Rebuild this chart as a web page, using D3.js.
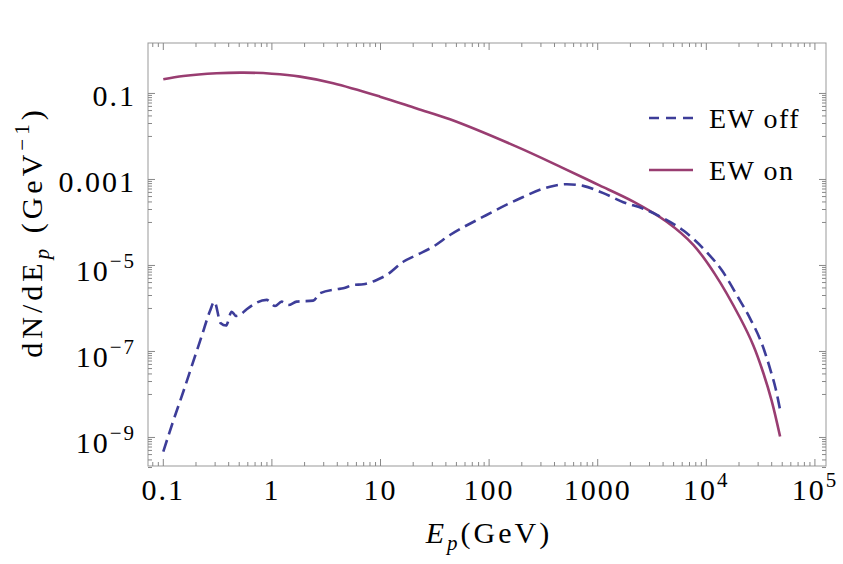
<!DOCTYPE html>
<html><head><meta charset="utf-8">
<script src="https://cdn.jsdelivr.net/npm/d3@7"></script>
<style>
body{margin:0;background:#fff}
svg{display:block}
</style>
</head><body>
<svg id="chart" width="843" height="564" font-family="Liberation Serif"></svg>
<script>
// ---------- data ----------
const seriesNames = ["EW off", "EW on"];
const seriesColors = ["#3d3d99", "#993d71"];

const energyOff = [0.1, 0.124, 0.153, 0.183, 0.226, 0.269, 0.295, 0.338, 0.378, 0.426, 0.467, 0.508, 0.586,
  0.895, 1.07, 1.23, 1.42, 1.69, 2.40, 2.77, 3.95, 4.54, 5.62, 6.95, 9.23, 11.4, 16.2, 21.5, 30.6, 43.6,
  88.5, 179, 364, 519, 736, 1127, 1722, 2630, 3750, 6240, 10160, 13960, 19600, 25200, 32600, 39400, 43400, 47800];
const dndeOff = [4.7e-10, 2.5e-9, 1.17e-8, 4.6e-8, 2.3e-7, 8.7e-7, 1.44e-6, 4.5e-7, 4.0e-7, 8.4e-7, 6.7e-7, 7.1e-7, 9.6e-7,
  1.58e-6, 1.14e-6, 1.44e-6, 1.2e-6, 1.44e-6, 1.52e-6, 2.25e-6, 2.8e-6, 2.95e-6, 3.52e-6, 3.66e-6, 4.6e-6, 6.0e-6, 1.22e-5, 1.75e-5, 2.74e-5, 5.1e-5,
  1.36e-4, 3.33e-4, 6.8e-4, 7.76e-4, 7.1e-4, 4.8e-4, 2.95e-4, 2.09e-4, 1.38e-4, 6.3e-5, 2.0e-5, 7.6e-6, 1.82e-6, 5.96e-7, 1.47e-7, 3.37e-8, 1.4e-8, 4.4e-9];

const energyOn = [0.1, 0.153, 0.31, 0.546, 1.0, 1.82, 3.67, 9.9, 21.5, 43.6, 179, 450, 819, 1050, 2130, 4315,
  7590, 12000, 20500, 27100, 33500, 40000, 47800];
const dndeOn = [0.214, 0.255, 0.295, 0.305, 0.288, 0.246, 0.173, 0.0843, 0.0447, 0.0251, 0.0058, 0.00199, 9.7e-4, 7.2e-4, 3.05e-4, 1.04e-4,
  3.02e-5, 6.3e-6, 6.0e-7, 1.38e-7, 3.16e-8, 7.1e-9, 1.05e-9];

const xTickValues = [0.1, 1, 10, 100, 1000, 1e4, 1e5];
const xTickLabels = ["0.1", "1", "10", "100", "1000", "10^4", "10^5"];
const yTickValues = [0.1, 1e-3, 1e-5, 1e-7, 1e-9];
const yTickLabels = ["0.1", "0.001", "10^−5", "10^−7", "10^−9"];
const yMinorDecades = [1e-2, 1e-4, 1e-6, 1e-8];

const xDomain = [0.0723, 1.265e5];
const yDomain = [2.17e-10, 1.49];

// ---------- layout ----------
const FONT = "Liberation Serif";
const frame = {left: 148, right: 826, top: 43, bottom: 466};
const svg = d3.select("#chart");
const x = d3.scaleLog().domain(xDomain).range([frame.left, frame.right]);
const y = d3.scaleLog().domain(yDomain).range([frame.bottom, frame.top]);

const tickColor = "#888";
const majorLen = 7, minorLen = 4;

// frame
svg.append("rect")
  .attr("x", frame.left).attr("y", frame.top)
  .attr("width", frame.right - frame.left).attr("height", frame.bottom - frame.top)
  .attr("fill", "none").attr("stroke", "#999").attr("stroke-width", 1);

// x ticks
const xMinor = [];
for (let e = -2; e <= 5; e++) for (let k = 2; k <= 9; k++) {
  const v = k * Math.pow(10, e);
  if (v > xDomain[0] && v < xDomain[1]) xMinor.push(v);
}
const gx = svg.append("g").attr("stroke", tickColor).attr("stroke-width", 1);
xTickValues.forEach(v => {
  gx.append("line").attr("x1", x(v)).attr("x2", x(v)).attr("y1", frame.bottom).attr("y2", frame.bottom - majorLen);
  gx.append("line").attr("x1", x(v)).attr("x2", x(v)).attr("y1", frame.top).attr("y2", frame.top + majorLen);
});
xMinor.forEach(v => {
  gx.append("line").attr("x1", x(v)).attr("x2", x(v)).attr("y1", frame.bottom).attr("y2", frame.bottom - minorLen);
  gx.append("line").attr("x1", x(v)).attr("x2", x(v)).attr("y1", frame.top).attr("y2", frame.top + minorLen);
});

// y ticks
const yMinor = [];
yTickValues.forEach(v => { for (let k = 2; k <= 9; k++) yMinor.push(k * v / 10); });
yMinorDecades.forEach(v => yMinor.push(v));
const gy = svg.append("g").attr("stroke", tickColor).attr("stroke-width", 1);
yTickValues.forEach(v => {
  gy.append("line").attr("x1", frame.left).attr("x2", frame.left + majorLen).attr("y1", y(v)).attr("y2", y(v));
  gy.append("line").attr("x1", frame.right).attr("x2", frame.right - majorLen).attr("y1", y(v)).attr("y2", y(v));
});
yMinor.forEach(v => {
  gy.append("line").attr("x1", frame.left).attr("x2", frame.left + minorLen).attr("y1", y(v)).attr("y2", y(v));
  gy.append("line").attr("x1", frame.right).attr("x2", frame.right - minorLen).attr("y1", y(v)).attr("y2", y(v));
});

// tick labels
function addLabel(g, label, xp, yp, anchor) {
  const t = g.append("text").attr("x", xp).attr("y", yp).attr("text-anchor", anchor)
    .attr("font-family", FONT).attr("font-size", 30).attr("letter-spacing", 2);
  const parts = label.split("^");
  t.append("tspan").text(parts[0]);
  if (parts.length > 1) {
    t.append("tspan").attr("font-size", 21).attr("dy", -13).text(parts[1]);
  }
  return t;
}
const gl = svg.append("g");
xTickValues.forEach((v, i) => {
  addLabel(gl, xTickLabels[i], x(v), 500, "middle");
});
yTickValues.forEach((v, i) => {
  const lab = yTickLabels[i];
  addLabel(gl, lab, 136, y(v) + (lab.includes("^") ? 16 : 13), "end");
});

// axis titles
const xt = svg.append("text").attr("x", 489).attr("y", 543).attr("text-anchor", "middle")
  .attr("font-family", FONT).attr("font-size", 30).attr("letter-spacing", 3);
xt.append("tspan").attr("font-style", "italic").text("E");
xt.append("tspan").attr("font-style", "italic").attr("font-size", 21).attr("dy", 7).text("p");
xt.append("tspan").attr("dy", -7).text("(GeV)");

const yt = svg.append("text").attr("transform", "translate(42,232) rotate(-90)")
  .attr("text-anchor", "middle").attr("font-family", FONT).attr("font-size", 30).attr("letter-spacing", 4);
yt.append("tspan").text("dN/dE");
yt.append("tspan").attr("font-style", "italic").attr("font-size", 21).attr("dy", 7).text("p");
yt.append("tspan").attr("dy", -7).text(" (GeV");
yt.append("tspan").attr("font-size", 21).attr("dy", -13).text("−1");
yt.append("tspan").attr("dy", 13).text(")");

// curves
svg.append("clipPath").attr("id", "clip").append("rect")
  .attr("x", frame.left).attr("y", frame.top)
  .attr("width", frame.right - frame.left).attr("height", frame.bottom - frame.top);
const lineOn = d3.line().x(d => x(d[0])).y(d => y(d[1])).curve(d3.curveCatmullRom.alpha(0.5));
const lineOff = d3.line().x(d => x(d[0])).y(d => y(d[1])).curve(d3.curveMonotoneX);
const dataOff = energyOff.map((e, i) => [e, dndeOff[i]]);
const dataOn = energyOn.map((e, i) => [e, dndeOn[i]]);
const gc = svg.append("g").attr("clip-path", "url(#clip)");
gc.append("path").attr("d", lineOn(dataOn)).attr("fill", "none")
  .attr("stroke", seriesColors[1]).attr("stroke-width", 2.6);
gc.append("path").attr("d", lineOff(dataOff)).attr("fill", "none")
  .attr("stroke", seriesColors[0]).attr("stroke-width", 2.6).attr("stroke-dasharray", "12,6");

// legend
const legendY = [118, 170];
const lg = svg.append("g");
seriesNames.forEach((name, i) => {
  lg.append("line").attr("x1", 649).attr("x2", 693).attr("y1", legendY[i]).attr("y2", legendY[i])
    .attr("stroke", seriesColors[i]).attr("stroke-width", 2.6)
    .attr("stroke-dasharray", i === 0 ? "10,7" : null);
  lg.append("text").attr("x", 709).attr("y", legendY[i] + 10)
    .attr("font-family", FONT).attr("font-size", 28)
    .attr("letter-spacing", 1.5).text(name);
});
</script>
</body></html>
